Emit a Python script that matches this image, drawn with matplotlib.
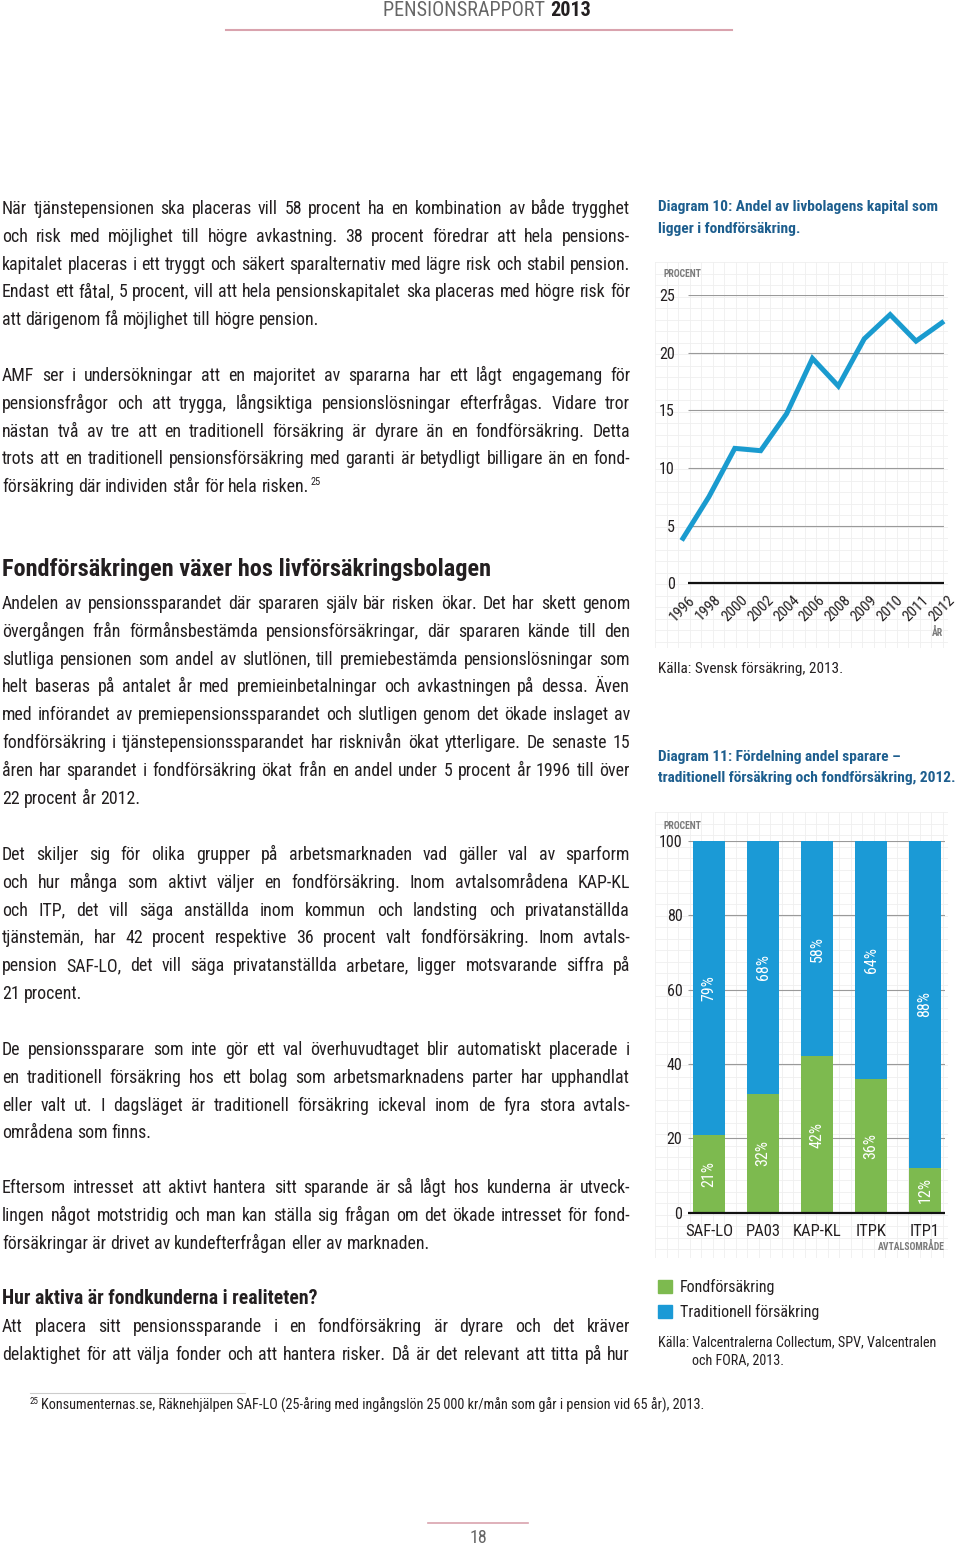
import matplotlib.pyplot as plt
import matplotlib.patches as mpatches
from matplotlib import font_manager as fm
import numpy as np

W, H = 960, 1547
TXT = '#231f20'
GREY = '#7a7a7a'

# Diagram 10: andel av livbolagens kapital i fondförsäkring (procent)
years = ['1996', '1998', '2000', '2002', '2004', '2006', '2008', '2009', '2010', '2011', '2012']
share_fund = [3.9, 7.5, 11.7, 11.5, 14.7, 19.5, 17.1, 21.2, 23.3, 21.0, 22.6]

# Diagram 11: fördelning andel sparare 2012 (procent)
areas = ['SAF-LO', 'PA03', 'KAP-KL', 'ITPK', 'ITP1']
fond = [21, 32, 42, 36, 12]
trad = [79, 68, 58, 64, 88]

paragraphs = [
    (214, [
        "När tjänstepensionen ska placeras vill 58 procent ha en kombination av både trygghet",
        "och risk med möjlighet till högre avkastning. 38 procent föredrar att hela pensions-",
        "kapitalet placeras i ett tryggt och säkert sparalternativ med lägre risk och stabil pension.",
        "Endast ett fåtal, 5 procent, vill att hela pensionskapitalet ska placeras med högre risk för",
        "att därigenom få möjlighet till högre pension."]),
    (381, [
        "AMF ser i undersökningar att en majoritet av spararna har ett lågt engagemang för",
        "pensionsfrågor och att trygga, långsiktiga pensionslösningar efterfrågas. Vidare tror",
        "nästan två av tre att en traditionell försäkring är dyrare än en fondförsäkring. Detta",
        "trots att en traditionell pensionsförsäkring med garanti är betydligt billigare än en fond-",
        "försäkring där individen står för hela risken."]),
    (609, [
        "Andelen av pensionssparandet där spararen själv bär risken ökar. Det har skett genom",
        "övergången från förmånsbestämda pensionsförsäkringar, där spararen kände till den",
        "slutliga pensionen som andel av slutlönen, till premiebestämda pensionslösningar som",
        "helt baseras på antalet år med premieinbetalningar och avkastningen på dessa. Även",
        "med införandet av premiepensionssparandet och slutligen genom det ökade inslaget av",
        "fondförsäkring i tjänstepensionssparandet har risknivån ökat ytterligare. De senaste 15",
        "åren har sparandet i fondförsäkring ökat från en andel under 5 procent år 1996 till över",
        "22 procent år 2012."]),
    (860, [
        "Det skiljer sig för olika grupper på arbetsmarknaden vad gäller val av sparform",
        "och hur många som aktivt väljer en fondförsäkring. Inom avtalsområdena KAP-KL",
        "och ITP, det vill säga anställda inom kommun och landsting och privatanställda",
        "tjänstemän, har 42 procent respektive 36 procent valt fondförsäkring. Inom avtals-",
        "pension SAF-LO, det vill säga privatanställda arbetare, ligger motsvarande siffra på",
        "21 procent."]),
    (1055, [
        "De pensionssparare som inte gör ett val överhuvudtaget blir automatiskt placerade i",
        "en traditionell försäkring hos ett bolag som arbetsmarknadens parter har upphandlat",
        "eller valt ut. I dagsläget är traditionell försäkring ickeval inom de fyra stora avtals-",
        "områdena som finns."]),
    (1193, [
        "Eftersom intresset att aktivt hantera sitt sparande är så lågt hos kunderna är utveck-",
        "lingen något motstridig och man kan ställa sig frågan om det ökade intresset för fond-",
        "försäkringar är drivet av kundefterfrågan eller av marknaden."]),
    (1332, [
        "Att placera sitt pensionssparande i en fondförsäkring är dyrare och det kräver",
        "delaktighet för att välja fonder och att hantera risker. Då är det relevant att titta på hur"]),
]


# pick a narrow face if one is installed, else a plain sans
def pick_font(bold):
    want = 700 if bold else 400
    prefs = ['Liberation Sans Narrow', 'Roboto Condensed', 'DejaVu Sans Condensed',
             'Open Sans Condensed', 'Noto Sans Condensed']
    entries = fm.fontManager.ttflist
    narrow = [f for f in entries
              if ('narrow' in f.fname.lower() or 'condensed' in f.fname.lower())
              and 'mono' not in f.fname.lower() and 'serif' not in f.fname.lower()
              and 'italic' not in f.fname.lower() and 'oblique' not in f.fname.lower()]
    for p in prefs:
        key = p.replace(' ', '').lower()
        hits = [f for f in narrow if key in f.fname.replace(' ', '').replace('-', '').replace('_', '').lower()]
        if hits:
            hits.sort(key=lambda f: abs(int(f.weight) - want) if str(f.weight).isdigit() else 500)
            return hits[0].fname
    if narrow:
        narrow.sort(key=lambda f: abs(int(f.weight) - want) if str(f.weight).isdigit() else 500)
        return narrow[0].fname
    for fam in ['Liberation Sans', 'Roboto']:
        try:
            return fm.findfont(fm.FontProperties(family=fam, weight='bold' if bold else 'normal'),
                               fallback_to_default=False)
        except Exception:
            pass
    return fm.findfont(fm.FontProperties(family='DejaVu Sans', weight='bold' if bold else 'normal'))


REG = pick_font(False)
BOLD = pick_font(True)


def F(size, bold=False):
    return fm.FontProperties(fname=BOLD if bold else REG, size=size)


fig = plt.figure(figsize=(W / 100, H / 100), dpi=100)
fig.patch.set_facecolor('white')
renderer = fig.canvas.get_renderer()


def fx(x):
    return x / W


def fy(y):
    return 1 - y / H


def txt(x, y, s, size=12, bold=False, **kw):
    kw.setdefault('color', TXT)
    return fig.text(fx(x), fy(y), s, fontproperties=F(size, bold), **kw)


def width_of(s, size, bold=False):
    t = txt(0, 0, s, size, bold)
    w = t.get_window_extent(renderer).width
    t.remove()
    return w


def fit(strings, size, maxw, bold=False, cap=99):
    # scale the size so the widest string spans maxw pixels
    widest = max(width_of(s, size, bold) for s in strings)
    return min(cap, size * maxw / widest)


def put_line(line, y, size, x0=2, x1=630, justify=True):
    words = line.split(' ')
    objs = [txt(0, y, w, size, va='baseline') for w in words]
    widths = [o.get_window_extent(renderer).width for o in objs]
    space = width_of('a a', size) - width_of('aa', size)
    gap = space
    if justify and len(words) > 1:
        gap = (x1 - x0 - sum(widths)) / (len(words) - 1)
    x = x0
    for o, w in zip(objs, widths):
        o.set_x(fx(x))
        x += w + gap
    return x - gap


all_lines = [l for _, ls in paragraphs for l in ls]
BODY = fit(all_lines, 12.5, 626, cap=14.5)

LS = 27.8
ends = {}
for i, (y0, lines) in enumerate(paragraphs):
    for j, line in enumerate(lines):
        last = (j == len(lines) - 1) and i != len(paragraphs) - 1
        ends[(i, j)] = put_line(line, y0 + j * LS, BODY, justify=not last)

# superscript 25 after "risken."
txt(ends[(1, 4)] + 1, 381 + 4 * LS - 7, '25', 7.5, va='baseline')

# headings
h1 = 'Fondförsäkringen växer hos livförsäkringsbolagen'
txt(2, 576, h1, fit([h1], 16.5, 488, True), True, va='baseline')
h2 = 'Hur aktiva är fondkunderna i realiteten?'
txt(2, 1304, h2, fit([h2], 13, 313, True), True, va='baseline')

# header
HS = fit(['PENSIONSRAPPORT 2013'], 13.5, 205)
hdr = txt(0, 11, 'PENSIONSRAPPORT ', HS, color='#666666', va='center')
w1 = hdr.get_window_extent(renderer).width
yr = txt(0, 11, '2013', HS, True, va='center')
w2 = yr.get_window_extent(renderer).width
hdr.set_x(fx(487 - (w1 + w2) / 2))
yr.set_x(fx(487 - (w1 + w2) / 2 + w1))
fig.add_artist(plt.Line2D([fx(226), fx(732)], [fy(30), fy(30)], color='#d9a3ae', lw=1.5))

# footnote
fn = 'Konsumenternas.se, Räknehjälpen SAF-LO (25-åring med ingångslön 25\u2009000 kr/mån som går i pension vid 65 år), 2013.'
fig.add_artist(plt.Line2D([fx(30), fx(245)], [fy(1393), fy(1393)], color='#cccccc', lw=0.8))
txt(30, 1404, '25', 6.5, va='baseline')
txt(41, 1410, fn, fit([fn], 10, 665), va='baseline')

# page number
fig.add_artist(plt.Line2D([fx(428), fx(528)], [fy(1523), fy(1523)], color='#d9a3ae', lw=1.2))
txt(478, 1538, '18', 13, color='#666666', ha='center', va='center')


def paper(x0, y0, x1, y1, step=11.5):
    bg = fig.add_axes([fx(x0), fy(y1), fx(x1 - x0), (y1 - y0) / H], zorder=0)
    bg.set_xlim(x0, x1)
    bg.set_ylim(y1, y0)
    for xv in np.arange(x0, x1, step):
        bg.axvline(xv, color='#efefef', lw=0.6)
    for yv in np.arange(y0, y1, step):
        bg.axhline(yv, color='#efefef', lw=0.6)
    bg.axis('off')


TITLE = '#1d5e8e'
t10 = ['Diagram 10: Andel av livbolagens kapital som', 'ligger i fondförsäkring.']
t11 = ['Diagram 11: Fördelning andel sparare \u2013', 'traditionell försäkring och fondförsäkring, 2012.']
TS = min(fit(t10, 11, 292, True), fit(t11, 11, 297, True))

# ---------- Diagram 10 ----------
txt(658, 211, t10[0], TS, True, color=TITLE, va='baseline')
txt(658, 233, t10[1], TS, True, color=TITLE, va='baseline')
paper(655, 262, 948, 648)

ax1 = fig.add_axes([fx(683), fy(583.3), fx(944 - 683), (583.3 - 295) / H], zorder=2)
ax1.patch.set_alpha(0)
xs = np.arange(len(years))
ax1.set_xlim(0, 10.08)
ax1.set_ylim(0, 25)
ax1.hlines([5, 10, 15, 20, 25], 0.19, 10.08, color='#9a9a9a', lw=0.8)
ax1.hlines([0], 0.19, 10.08, color='#111111', lw=1.6, clip_on=False)
ax1.plot(xs, share_fund, color='#1a9bcf', lw=3.6, solid_joinstyle='miter', clip_on=False, zorder=3)
for s in ax1.spines.values():
    s.set_visible(False)
ax1.set_yticks([0, 5, 10, 15, 20, 25])
ax1.set_yticklabels(['0', '5', '10', '15', '20', '25'], fontproperties=F(11.5), color=TXT)
ax1.tick_params(axis='y', length=0, pad=6)
ax1.set_xticks([])
for i, lab in enumerate(years):
    ax1.text(i, -0.033, lab, transform=ax1.get_xaxis_transform(), rotation=45,
             ha='center', va='top', fontproperties=F(10.8), color=TXT)
txt(663, 277, 'PROCENT', 7, True, color=GREY, va='baseline')
txt(943, 636, 'ÅR', 7, True, color=GREY, ha='right', va='baseline')
txt(658, 673, 'Källa: Svensk försäkring, 2013.', 11, va='baseline')

# ---------- Diagram 11 ----------
txt(658, 761, t11[0], TS, True, color=TITLE, va='baseline')
txt(658, 782, t11[1], TS, True, color=TITLE, va='baseline')
paper(655, 812, 948, 1258)

ax2 = fig.add_axes([fx(688), fy(1212.7), fx(945 - 688), (1212.7 - 840.7) / H], zorder=2)
ax2.patch.set_alpha(0)
pos = np.arange(len(areas))
ax2.set_xlim(-0.39, 4.37)
ax2.set_ylim(0, 100)
ax2.hlines([20, 40, 60, 80, 100], -0.39, 4.37, color='#9a9a9a', lw=0.8, zorder=1)
GREEN = '#7dba4f'
BLUE = '#1b9ad6'
ax2.bar(pos, fond, width=0.58, color=GREEN, zorder=2)
ax2.bar(pos, trad, width=0.58, bottom=fond, color=BLUE, zorder=2)
ax2.hlines([0], -0.39, 4.37, color='#111111', lw=1.6, zorder=3, clip_on=False)
for p, g, b in zip(pos, fond, trad):
    ax2.text(p, g / 2, f'{g}%', rotation=90, ha='center', va='center', color='white',
             fontproperties=F(11.5), zorder=4)
    ax2.text(p, g + b / 2, f'{b}%', rotation=90, ha='center', va='center', color='white',
             fontproperties=F(11.5), zorder=4)
for s in ax2.spines.values():
    s.set_visible(False)
ax2.set_yticks([0, 20, 40, 60, 80, 100])
ax2.set_yticklabels(['0', '20', '40', '60', '80', '100'], fontproperties=F(11.5), color=TXT)
ax2.tick_params(axis='y', length=0, pad=4)
ax2.set_xticks(pos)
ax2.set_xticklabels(areas, fontproperties=F(12), color=TXT)
ax2.tick_params(axis='x', length=0, pad=8)
txt(663, 829, 'PROCENT', 7, True, color=GREY, va='baseline')
txt(945, 1250, 'AVTALSOMRÅDE', 7, True, color=GREY, ha='right', va='baseline')

# legend
fig.add_artist(mpatches.Rectangle((fx(658), fy(1293)), fx(14), 13 / H, color=GREEN))
fig.add_artist(mpatches.Rectangle((fx(658), fy(1318)), fx(14), 13 / H, color=BLUE))
txt(680, 1292, 'Fondförsäkring', 11.5, va='baseline')
txt(680, 1317, 'Traditionell försäkring', 11.5, va='baseline')
src = 'Källa: Valcentralerna Collectum, SPV, Valcentralen'
SS = fit([src], 10.5, 282)
txt(658, 1346, src, SS, va='baseline')
txt(692, 1364, 'och FORA, 2013.', SS, va='baseline')

fig.savefig('out.png', dpi=100)
